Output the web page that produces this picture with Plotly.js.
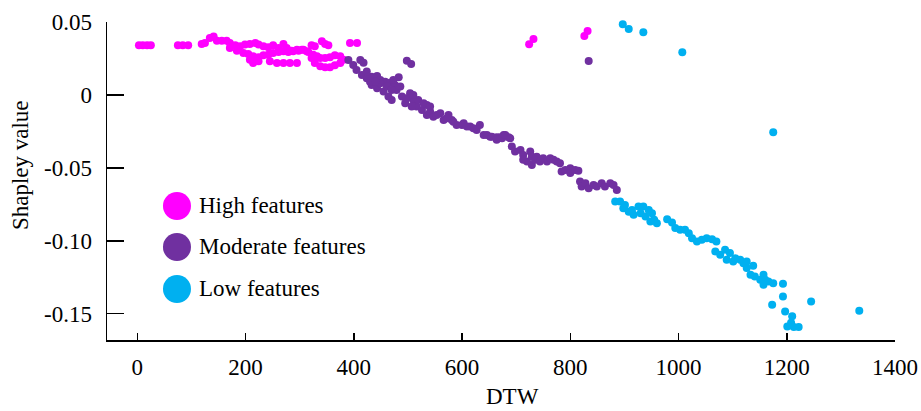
<!DOCTYPE html>
<html>
<head>
<meta charset="utf-8">
<script src="https://cdn.plot.ly/plotly-3.0.1.min.js"></script>
<style>html,body{margin:0;padding:0;background:#fff;}#chart{width:921px;height:411px;}</style>
</head>
<body>
<div id="chart"></div>
<script>
// ---- data ----
const seriesNames = ["High features", "Moderate features", "Low features"];
const seriesColors = ["#FF00FF", "#7030A0", "#00B0F0"];

const highX = [3,10,18,25,75,84,94,
  119,125,134,141,147,156,165,171,181,190,199,208,218,224,233,242,251,261,270,276,285,295,304,313,322,328,341,347,353,
  171,184,196,205,214,224,233,242,251,261,270,279,288,298,307,316,325,332,338,347,356,365,375,381,375,365,356,347,338,328,322,
  208,214,224,245,258,270,282,295,
  393,406,724,732,826,832];
const highY = [0.034,0.034,0.034,0.034,0.034,0.034,0.034,
  0.0349,0.0356,0.039,0.040,0.0372,0.0372,0.0372,0.0356,0.034,0.0333,0.0345,0.0349,0.0356,0.0345,0.0333,0.0327,0.034,0.0322,0.0349,0.0322,0.0303,0.031,0.031,0.0299,0.034,0.0333,0.0368,0.0349,0.034,
  0.0322,0.0303,0.0288,0.0281,0.0265,0.0258,0.0272,0.0276,0.0288,0.0294,0.0299,0.0294,0.0299,0.0303,0.031,0.0294,0.0276,0.0265,0.0254,0.0254,0.0258,0.0272,0.0265,0.0242,0.0219,0.0203,0.019,0.019,0.0197,0.0219,0.0253,
  0.0242,0.0219,0.0231,0.0231,0.0219,0.0219,0.0219,0.0219,
  0.0356,0.0356,0.0347,0.0383,0.0404,0.0438];

const modX = [390,399,412,418,405,415,424,433,443,449,458,467,483,476,433,443,455,464,470,479,486,489,495,504,510,516,519,526,535,535,541,547,560,566,575,581,590,603,615,627,633,640,652,664,677,686,
  430,449,440,461,470,424,473,498,510,529,507,541,553,572,584,600,609,621,646,670,
  655,664,674,680,689,692,698,708,713,720,726,729,729,735,738,744,750,757,763,769,775,781,784,791,800,800,809,815,818,821,828,834,843,849,858,864,874,880,886,713,
  834,498,506];
const modY = [0.024,0.0205,0.024,0.0221,0.0171,0.0137,0.0114,0.0125,0.013,0.0103,0.0091,0.0084,0.0121,0.0068,0.0068,0.0046,0.0023,-0.0011,-0.0034,0.0034,0.0057,-0.0011,-0.0057,0.0011,-0.0034,-0.008,-0.0034,-0.0103,-0.0069,-0.0137,-0.0114,-0.0149,-0.0126,-0.0171,-0.0137,-0.0171,-0.0206,-0.0194,-0.0217,-0.024,-0.0206,-0.0274,-0.0286,-0.029,-0.0274,-0.029,
  0.0091,0.008,0.0091,0.0057,0.0034,0.016,0.0103,-0.0023,0,-0.0057,-0.008,-0.008,-0.0137,-0.016,-0.0183,-0.0206,-0.0217,-0.0228,-0.0274,-0.029,
  -0.0286,-0.0308,-0.0297,-0.0274,-0.0297,-0.0354,-0.0388,-0.0377,-0.0411,-0.0457,-0.0388,-0.0423,-0.048,-0.0445,-0.0423,-0.0457,-0.0434,-0.0457,-0.0434,-0.0445,-0.0457,-0.0468,-0.0525,-0.0514,-0.0502,-0.0536,-0.0514,-0.0519,-0.0594,-0.0628,-0.0605,-0.0639,-0.0617,-0.0628,-0.0605,-0.0628,-0.0605,-0.0617,-0.0651,-0.0445,
  0.0233,0.0235,0.0212];

const lowX = [883,892,901,898,908,917,926,935,930,939,945,951,948,960,955,914,979,988,994,1003,1012,1019,1025,1034,1043,1052,1062,1070,1068,1077,1086,1089,1095,1101,1105,1114,1120,1126,1126,1138,1133,1141,1151,1157,1160,1157,1166,1175,1193,1193,1173,1197,1210,1245,1334,1201,1208,1213,1222,
  897,908,918,935,1007,1175];
const lowY = [-0.0731,-0.0731,-0.0754,-0.0776,-0.08,-0.0822,-0.0765,-0.0765,-0.0811,-0.0834,-0.0788,-0.0811,-0.0868,-0.0879,-0.0856,-0.0788,-0.0852,-0.0875,-0.0913,-0.0925,-0.0925,-0.0948,-0.0982,-0.1005,-0.0993,-0.0982,-0.0989,-0.1005,-0.1073,-0.1096,-0.1062,-0.113,-0.1084,-0.1142,-0.1119,-0.113,-0.1153,-0.1142,-0.1187,-0.1171,-0.1233,-0.1245,-0.1267,-0.1233,-0.1267,-0.1302,-0.1279,-0.1291,-0.1295,-0.1382,-0.1439,-0.1484,-0.1518,-0.1416,-0.148,-0.1587,-0.1561,-0.1591,-0.1591,
  0.0484,0.0452,0.053,0.043,0.0292,-0.0256];

const xTickVals = [0,200,400,600,800,1000,1200,1400];
const xTickText = ["0","200","400","600","800","1000","1200","1400"];
const yTickVals = [0.05,0,-0.05,-0.10,-0.15];
const yTickText = ["0.05","0","-0.05","-0.10","-0.15"];
const xTitle = "DTW";
const yTitle = "Shapley value";

// ---- chart ----
const FONT = "'Liberation Serif', 'Times New Roman', serif";
const FS = 23;
const xs = [highX, modX, lowX];
const ys = [highY, modY, lowY];
const traces = xs.map((x, i) => ({
  type: "scatter", mode: "markers", x: x, y: ys[i], name: seriesNames[i],
  marker: {color: seriesColors[i], size: 8, line: {width: 0}},
  showlegend: false, hoverinfo: "skip", cliponaxis: false
}));

const legendY = [0.4214, 0.2925, 0.1604];
const shapes = seriesColors.map((c, i) => ({
  type: "circle", xref: "paper", yref: "paper",
  xsizemode: "pixel", ysizemode: "pixel",
  xanchor: 0.0888, yanchor: legendY[i],
  x0: -14, x1: 14, y0: -14, y1: 14,
  fillcolor: c, line: {width: 0}
}));
const annotations = seriesNames.map((n, i) => ({
  xref: "paper", yref: "paper", x: 0.1142, y: legendY[i],
  xanchor: "left", yanchor: "middle", showarrow: false,
  text: n, font: {family: FONT, size: FS, color: "#000"}
}));
// axis titles placed as in the reference
annotations.push({
  xref: "paper", yref: "paper", x: 0.514, y: -0.179,
  xanchor: "center", yanchor: "middle", showarrow: false,
  text: xTitle, font: {family: FONT, size: FS, color: "#000"}
});
annotations.push({
  xref: "paper", yref: "paper", x: -0.1104, y: 0.55, textangle: -90,
  xanchor: "center", yanchor: "middle", showarrow: false,
  text: yTitle, font: {family: FONT, size: FS, color: "#000"}
});

const layout = {
  width: 921, height: 411, autosize: false,
  margin: {l: 107, r: 26, t: 22, b: 71, pad: 0},
  paper_bgcolor: "#fff", plot_bgcolor: "#fff",
  font: {family: FONT, size: FS, color: "#000"},
  showlegend: false,
  xaxis: {
    range: [-56, 1400], tickvals: xTickVals, ticktext: xTickText,
    ticks: "inside", ticklen: 7, tickwidth: 1.5, tickcolor: "#000",
    showline: true, linecolor: "#000", linewidth: 1.5,
    showgrid: false, zeroline: false,
    ticklabelstandoff: 6,
    tickfont: {family: FONT, size: FS, color: "#000"}
  },
  yaxis: {
    range: [-0.168, 0.05], tickvals: yTickVals, ticktext: yTickText,
    ticks: "inside", ticklen: 17, tickwidth: 1.5, tickcolor: "#000",
    showline: true, linecolor: "#000", linewidth: 1.5,
    showgrid: false, zeroline: false,
    ticklabelstandoff: 9,
    tickfont: {family: FONT, size: FS, color: "#000"}
  },
  shapes: shapes,
  annotations: annotations
};

Plotly.newPlot("chart", traces, layout, {staticPlot: true, displayModeBar: false});
</script>
</body>
</html>
